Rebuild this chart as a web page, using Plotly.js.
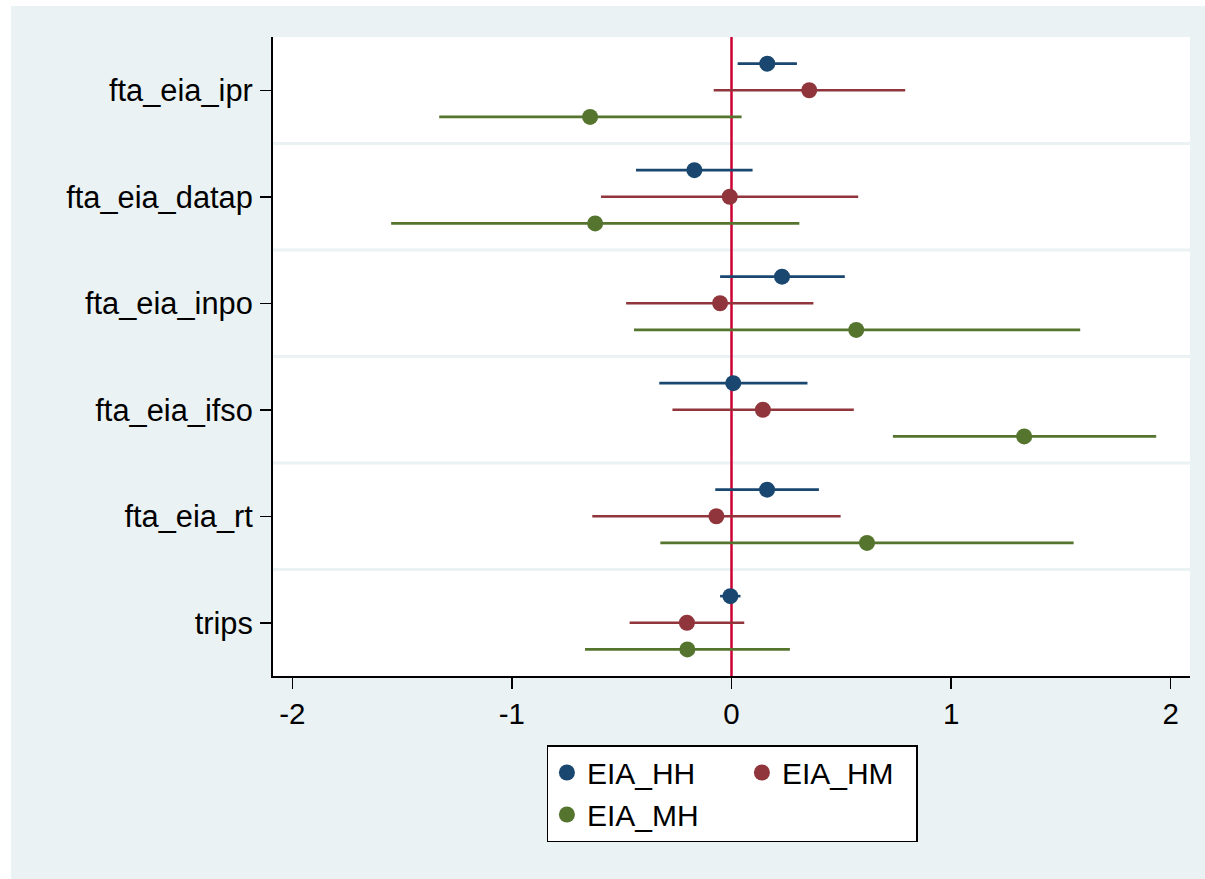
<!DOCTYPE html>
<html>
<head>
<meta charset="utf-8">
<script src="https://cdn.plot.ly/plotly-3.0.1.min.js"></script>
<style>
  html, body { margin: 0; padding: 0; background: #ffffff; }
  #chart { position: absolute; left: 11px; top: 6px; width: 1194px; height: 873px; }
</style>
</head>
<body>
<div id="chart"></div>
<script>
// Categories (top to bottom)
const categories = ["fta_eia_ipr", "fta_eia_datap", "fta_eia_inpo", "fta_eia_ifso", "fta_eia_rt", "trips"];
const seriesNames = ["EIA_HH", "EIA_HM", "EIA_MH"];

// Point estimates
const hhEst = [0.163, -0.169, 0.230, 0.008, 0.162, -0.005];
const hmEst = [0.354, -0.008, -0.052, 0.143, -0.069, -0.203];
const mhEst = [-0.644, -0.621, 0.568, 1.333, 0.617, -0.201];

// Lower confidence bounds
const hhLo = [0.028, -0.435, -0.052, -0.329, -0.074, -0.052];
const hmLo = [-0.081, -0.594, -0.480, -0.269, -0.634, -0.464];
const mhLo = [-1.331, -1.550, -0.444, 0.735, -0.324, -0.667];

// Upper confidence bounds
const hhHi = [0.298, 0.096, 0.516, 0.346, 0.398, 0.041];
const hmHi = [0.791, 0.577, 0.373, 0.557, 0.497, 0.058];
const mhHi = [0.046, 0.309, 1.588, 1.934, 1.558, 0.266];

const xTicks = [-2, -1, 0, 1, 2];

const colors = ["#1a476f", "#90353b", "#55752f"];
const offsets = [-0.25, 0, 0.25];
const groups = ["g1", "g2", "g1"];
const legendWidths = [150, 129, 150];

const FONT = "Liberation Sans, Arial, Helvetica, sans-serif";

function mkTrace(i, est, lo, hi) {
  return {
    type: "scatter",
    mode: "markers",
    name: seriesNames[i],
    legendgroup: groups[i],
    legendwidth: legendWidths[i],
    x: est,
    y: categories.map((c, k) => k + offsets[i]),
    marker: { color: colors[i], size: 16, line: { width: 0 } },
    error_x: {
      type: "data",
      symmetric: false,
      array: hi.map((h, k) => h - est[k]),
      arrayminus: lo.map((l, k) => est[k] - l),
      color: colors[i],
      thickness: 2.6,
      width: 0
    },
    hoverinfo: "x+name"
  };
}

const data = [
  mkTrace(0, hhEst, hhLo, hhHi),
  mkTrace(1, hmEst, hmLo, hmHi),
  mkTrace(2, mhEst, mhLo, mhHi)
];

const shapes = [];
for (let k = 0; k < categories.length - 1; k++) {
  shapes.push({
    type: "line", xref: "paper", yref: "y",
    x0: 0, x1: 1, y0: k + 0.5, y1: k + 0.5,
    line: { color: "#eaf2f3", width: 3 }, layer: "below"
  });
}
shapes.push({
  type: "line", xref: "x", yref: "paper",
  x0: 0, x1: 0, y0: 0, y1: 1,
  line: { color: "#cc0033", width: 2.5 }, layer: "below"
});

const layout = {
  width: 1194,
  height: 873,
  paper_bgcolor: "#eaf2f3",
  plot_bgcolor: "#ffffff",
  margin: { l: 262, r: 15, t: 31, b: 203 },
  font: { family: FONT, size: 30, color: "#000000" },
  showlegend: true,
  xaxis: {
    range: [-2.088, 2.088],
    tickvals: xTicks,
    ticktext: xTicks.map(String),
    ticks: "outside", ticklen: 11, tickwidth: 1.5, tickcolor: "#000",
    showline: true, linecolor: "#000", linewidth: 2,
    showgrid: false, zeroline: false,
    tickfont: { family: FONT, size: 29.5, color: "#000" },
    fixedrange: true
  },
  yaxis: {
    range: [5.5, -0.5],
    tickvals: categories.map((c, k) => k),
    ticktext: categories,
    ticks: "outside", ticklen: 11, tickwidth: 1.5, tickcolor: "#000",
    showline: true, linecolor: "#000", linewidth: 2,
    showgrid: false, zeroline: false,
    tickfont: { family: FONT, size: 30.8, color: "#000" },
    ticklabelstandoff: 1,
    fixedrange: true
  },
  legend: {
    orientation: "h",
    traceorder: "grouped",
    x: 0.2987, xanchor: "left",
    y: -0.108, yanchor: "top",
    bgcolor: "#ffffff",
    bordercolor: "#000000",
    borderwidth: 1.5,
    font: { family: FONT, size: 30, color: "#000" },
    entrywidth: 150,
    tracegroupgap: 0,
    itemclick: false, itemdoubleclick: false
  },
  shapes: shapes
};

Plotly.newPlot("chart", data, layout, { displayModeBar: false, staticPlot: true });
</script>
</body>
</html>
